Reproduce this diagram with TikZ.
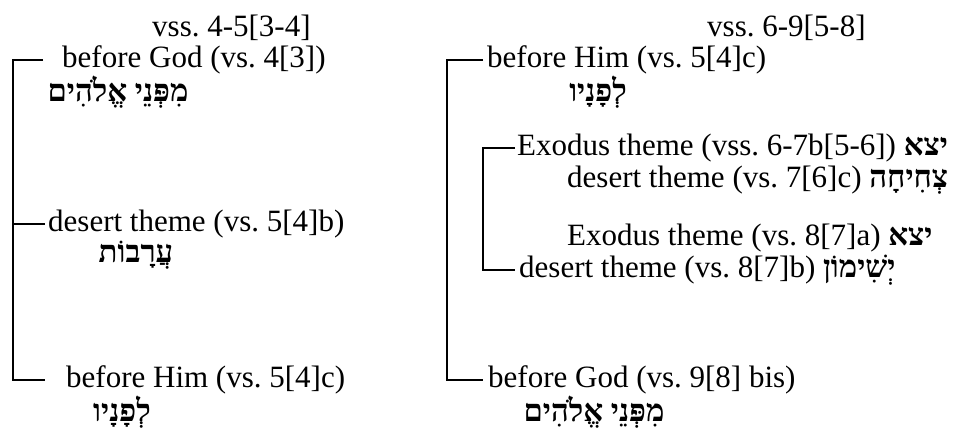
\documentclass[tikz,border=0pt]{standalone}
\usepackage{fontspec}
\setmainfont{Liberation Serif}
\newfontfamily\heb[Script=Hebrew]{Liberation Serif}
\TeXXeTstate=1
\frenchspacing
\begin{document}
\begin{tikzpicture}[x=1pt,y=-1pt,
  txt/.style={inner sep=0pt, anchor=west, font=\fontsize{31}{37}\selectfont},
  hb/.style={inner sep=0pt, font=\fontsize{31}{37}\selectfont\heb\bfseries},
  br/.style={line width=1.7pt}]
\useasboundingbox[fill=white] (0,0) rectangle (974,430);
% left column
\node[txt] (lv) at (152,28) {vss. 4-5[3-4]};
\node[txt] (l1) at (62,60) {before God (vs. 4[3])};
\node[hb] (l1h) at (118,92) {\beginR מִפְּנֵי אֱלֹהִים\endR};
\node[txt] (l2) at (48,224) {desert theme (vs. 5[4]b)};
\node[hb] (l2h) at (136,255) {\beginR עֲרָבוֹת\endR};
\node[txt] (l3) at (66,380) {before Him (vs. 5[4]c)};
\node[hb] (l3h) at (122,412) {\beginR לְפָנָיו\endR};
% right column
\node[txt] (rv) at (707,28) {vss. 6-9[5-8]};
\node[txt] (r1) at (487,60) {before Him (vs. 5[4]c)};
\node[hb] (r1h) at (598,92) {\beginR לְפָנָיו\endR};
\node[txt] (r2) at (517,148) {Exodus theme (vss. 6-7b[5-6]) {\heb\bfseries\beginR יצא\endR}};
\node[txt] (r3) at (567,180) {desert theme (vs. 7[6]c) {\heb\bfseries\beginR צְחִיחָה\endR}};
\node[txt] (r4) at (567,238) {Exodus theme (vs. 8[7]a) {\heb\bfseries\beginR יצא\endR}};
\node[txt] (r5) at (519,270) {desert theme (vs. 8[7]b) {\heb\bfseries\beginR יְשִׁימוֹן\endR}};
\node[txt] (r6) at (488,380) {before God (vs. 9[8] bis)};
\node[hb] (r6h) at (594,412) {\beginR מִפְּנֵי אֱלֹהִים\endR};
% brackets
\coordinate (LX) at (13,0);
\coordinate (RX) at (447,0);
\coordinate (IX) at (483,0);
\draw[br] ([xshift=-19pt]l1.west) -- (l1.west -| LX) -- (l3.west -| LX) -- ([xshift=-21pt]l3.west);
\draw[br] (l2.west -| LX) -- ([xshift=-3pt]l2.west);
\draw[br] ([xshift=-4pt]r1.west) -- (r1.west -| RX) -- (r6.west -| RX) -- ([xshift=-5pt]r6.west);
\draw[br] ([xshift=-2pt]r2.west) -- (r2.west -| IX) -- (r5.west -| IX) -- ([xshift=-4pt]r5.west);
\end{tikzpicture}
\end{document}
